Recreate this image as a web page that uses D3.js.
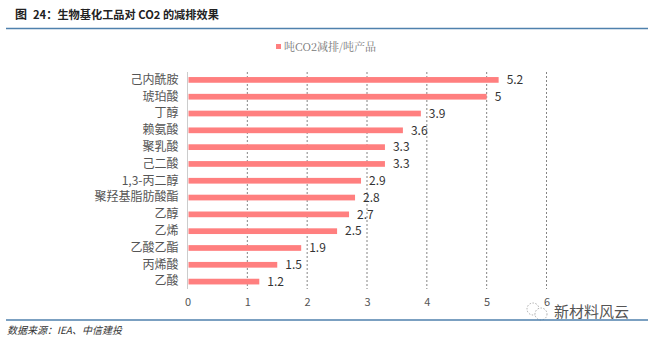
<!DOCTYPE html>
<html><head><meta charset="utf-8">
<script src="https://cdn.jsdelivr.net/npm/d3@7"></script>
<style>
html,body{margin:0;padding:0;background:#fff;}
svg{display:block;}
</style></head>
<body>
<script>
const categories = ["己内酰胺","琥珀酸","丁醇","赖氨酸","聚乳酸","己二酸","1,3-丙二醇","聚羟基脂肪酸酯","乙醇","乙烯","乙酸乙酯","丙烯酸","乙酸"];
const values = [5.2,5,3.9,3.6,3.3,3.3,2.9,2.8,2.7,2.5,1.9,1.5,1.2];
const xTicks = [0,1,2,3,4,5,6];
const seriesName = "吨CO2减排/吨产品";
const titleHead = "图";
const title = "24：生物基化工品对 CO2 的减排效果";
const source = "数据来源：IEA、中信建投";
const watermark = "新材料风云";

const W = 654, H = 339;
const svg = d3.select("body").append("svg").attr("width", W).attr("height", H);
const sans = "'Noto Sans CJK SC','Microsoft YaHei',sans-serif";

// title
svg.append("text").attr("x", 15).attr("y", 19).text(titleHead)
  .attr("font-family", sans).attr("font-weight", "bold").attr("font-size", 12).attr("fill", "#222");
svg.append("text").attr("x", 33).attr("y", 19).text(title)
  .attr("font-family", sans).attr("font-weight", "bold").attr("font-size", 11.2).attr("fill", "#222");
svg.append("line").attr("x1", 6).attr("x2", 648).attr("y1", 28.5).attr("y2", 28.5)
  .attr("stroke", "#4f81ad").attr("stroke-width", 1.5);

// legend
svg.append("rect").attr("x", 276).attr("y", 44).attr("width", 5).attr("height", 5).attr("fill", "#ff7f7f");
svg.append("text").attr("x", 284).attr("y", 50.5).text(seriesName)
  .attr("font-family", "'Noto Serif CJK SC','AR PL UMing CN',serif").attr("font-size", 11).attr("fill", "#777");

const x = d3.scaleLinear().domain([0, 6]).range([187.5, 546.5]);
const y = d3.scaleBand().domain(categories).range([71.5, 290]).paddingInner(0.66).paddingOuter(0.33);

// grid
const g = svg.append("g");
g.selectAll("line.grid").data(xTicks.filter(d => d > 0)).enter().append("line")
  .attr("x1", d => x(d)).attr("x2", d => x(d)).attr("y1", 72).attr("y2", 289)
  .attr("stroke", "#666").attr("stroke-width", 0.8).attr("stroke-dasharray", "2,2");
g.append("line").attr("x1", x(0)).attr("x2", x(0)).attr("y1", 72).attr("y2", 289)
  .attr("stroke", "#ccc").attr("stroke-width", 1);

// x axis
const xAxis = d3.axisBottom(x).tickValues(xTicks).tickSize(0).tickFormat(d3.format("d"));
const ax = svg.append("g").attr("transform", "translate(0,294)").call(xAxis);
ax.select(".domain").remove();
ax.selectAll("text").attr("font-family", sans).attr("font-size", 11).attr("fill", "#555").attr("dy", "0.85em");

// y axis
const yAxis = d3.axisLeft(y).tickSize(0).tickPadding(9);
const ay = svg.append("g").attr("transform", `translate(${x(0)},0)`).call(yAxis);
ay.select(".domain").remove();
ay.selectAll("text").attr("font-family", sans).attr("font-size", 12).attr("fill", "#555");

// bars
const data = categories.map((c, i) => ({c, v: values[i]}));
svg.selectAll("rect.bar").data(data).enter().append("rect").attr("class", "bar")
  .attr("x", x(0) + 1).attr("y", d => y(d.c)).attr("width", d => x(d.v) - x(0) - 1)
  .attr("height", y.bandwidth()).attr("fill", "#ff7f7f");

svg.selectAll("text.val").data(data).enter().append("text").attr("class", "val")
  .attr("x", d => x(d.v) + 8).attr("y", d => y(d.c) + y.bandwidth() / 2).attr("dy", "0.35em")
  .text(d => d.v).attr("font-family", sans).attr("font-size", 12).attr("fill", "#333");

// watermark
const wm = svg.append("g").attr("transform", "translate(538,311)");
wm.append("circle").attr("cx", -5).attr("cy", -2).attr("r", 6).attr("fill", "none").attr("stroke", "#999").attr("stroke-width", 0.8).attr("stroke-dasharray", "1.5,1.5");
wm.append("circle").attr("cx", 3).attr("cy", 3).attr("r", 6).attr("fill", "#fff").attr("stroke", "#999").attr("stroke-width", 0.8).attr("stroke-dasharray", "1.5,1.5");
svg.append("text").attr("x", 554).attr("y", 317).text(watermark)
  .attr("font-family", sans).attr("font-size", 15).attr("fill", "#555");

// bottom
svg.append("line").attr("x1", 6).attr("x2", 648).attr("y1", 320).attr("y2", 320)
  .attr("stroke", "#4f81ad").attr("stroke-width", 1.5);
svg.append("text").attr("x", 7).attr("y", 334).text(source)
  .attr("font-family", sans).attr("font-style", "italic").attr("font-size", 10).attr("fill", "#333");
</script>
</body></html>
